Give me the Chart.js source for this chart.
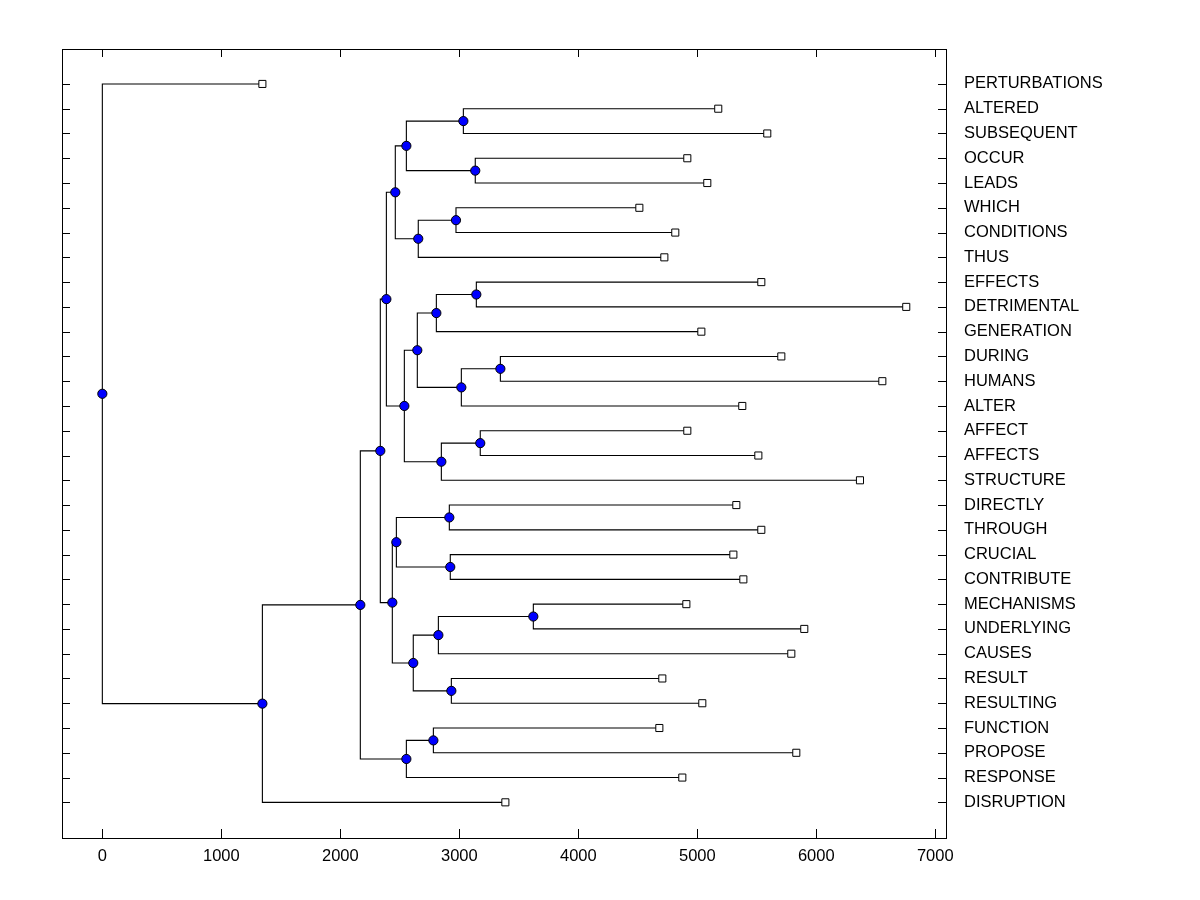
<!DOCTYPE html>
<html>
<head>
<meta charset="utf-8">
<title>Dendrogram</title>
<script src="https://cdn.jsdelivr.net/npm/chart.js@4.4.1/dist/chart.umd.min.js"></script>
<style>
  html, body { margin: 0; padding: 0; background: #fff; }
  #wrap { width: 1200px; height: 900px; }
</style>
</head>
<body>
<div id="wrap"><canvas id="dendro" width="1200" height="900"></canvas></div>
<script>
// leaves, top to bottom
const leafLabels = [
  'PERTURBATIONS', 'ALTERED', 'SUBSEQUENT', 'OCCUR', 'LEADS', 'WHICH', 'CONDITIONS', 'THUS',
  'EFFECTS', 'DETRIMENTAL', 'GENERATION', 'DURING', 'HUMANS', 'ALTER', 'AFFECT', 'AFFECTS',
  'STRUCTURE', 'DIRECTLY', 'THROUGH', 'CRUCIAL', 'CONTRIBUTE', 'MECHANISMS', 'UNDERLYING',
  'CAUSES', 'RESULT', 'RESULTING', 'FUNCTION', 'PROPOSE', 'RESPONSE', 'DISRUPTION'
]
const leafValues = [
  1345, 5176, 5588, 4916, 5084, 4513, 4815, 4723,
  5538, 6756, 5034, 5706, 6555, 5378, 4916, 5513,
  6367, 5328, 5538, 5303, 5387, 4908, 5899,
  5790, 4706, 5042, 4681, 5832, 4874, 3387
]

// merges: node ids 0..29 are leaves, merge i becomes node 30 + i
const mergePairs = [
  [1, 2], [3, 4], [30, 31], [5, 6], [33, 7], [32, 34],
  [8, 9], [36, 10], [11, 12], [38, 13], [37, 39], [14, 15], [41, 16], [40, 42], [35, 43],
  [17, 18], [19, 20], [45, 46], [21, 22], [48, 23], [24, 25], [49, 50], [47, 51], [44, 52],
  [26, 27], [54, 28], [53, 55], [56, 29], [0, 57]
]
const mergeValues = [
  3034, 3134, 2555, 2972, 2655, 2462,
  3143, 2807, 3345, 3017, 2647, 3176, 2849, 2538, 2387,
  2916, 2924, 2471, 3622, 2824, 2933, 2613, 2437, 2336,
  2782, 2555, 2168, 1345, 0
]

const xTicks = [0, 1000, 2000, 3000, 4000, 5000, 6000, 7000]

// node positions: leaves sit on their row, merges halfway between children
const nodeX = [...leafValues]
const nodeY = leafLabels.map((_, i) => i)
mergePairs.forEach(([a, b], i) => {
  nodeX.push(mergeValues[i])
  nodeY.push((nodeY[a] + nodeY[b]) / 2)
})

const branchSets = mergePairs.map(([a, b], i) => {
  const p = 30 + i
  return {
    data: [
      { x: nodeX[a], y: nodeY[a] },
      { x: nodeX[p], y: nodeY[a] },
      { x: nodeX[p], y: nodeY[b] },
      { x: nodeX[b], y: nodeY[b] }
    ],
    showLine: true,
    borderColor: '#000',
    borderWidth: 1.1,
    pointRadius: 0,
    tension: 0,
    order: 2
  }
})

const nodeSet = {
  data: mergeValues.map((v, i) => ({ x: v, y: nodeY[30 + i] })),
  pointStyle: 'circle',
  pointRadius: 4.6,
  backgroundColor: '#0000ff',
  borderColor: '#000',
  borderWidth: 1,
  order: 0
}

const leafSet = {
  data: leafValues.map((v, i) => ({ x: v, y: i })),
  pointStyle: 'rect',
  pointRadius: 5,
  backgroundColor: '#fff',
  borderColor: '#000',
  borderWidth: 1,
  order: 1
}

// frame plus inward tick marks on all four sides
const frameTicks = {
  id: 'frameTicks',
  afterDatasetsDraw(chart) {
    const { ctx, chartArea: a, scales: { x, y } } = chart
    ctx.save()
    ctx.strokeStyle = '#000'
    ctx.lineWidth = 1
    ctx.beginPath()
    x.ticks.forEach(t => {
      const px = Math.round(x.getPixelForValue(t.value)) + 0.5
      ctx.moveTo(px, a.bottom); ctx.lineTo(px, a.bottom - 9)
      ctx.moveTo(px, a.top);    ctx.lineTo(px, a.top + 8)
    })
    y.ticks.forEach(t => {
      const py = Math.round(y.getPixelForValue(t.value)) + 0.5
      ctx.moveTo(a.left, py);  ctx.lineTo(a.left + 8, py)
      ctx.moveTo(a.right, py); ctx.lineTo(a.right - 8, py)
    })
    ctx.stroke()
    ctx.strokeRect(Math.round(a.left) + 0.5, Math.round(a.top) + 0.5,
      Math.round(a.right - a.left), Math.round(a.bottom - a.top))
    ctx.restore()
  }
}

const font = { family: "'Liberation Sans', Arial, sans-serif", size: 16.5 }

new Chart(document.getElementById('dendro'), {
  type: 'scatter',
  data: { datasets: [nodeSet, leafSet, ...branchSets] },
  options: {
    responsive: false,
    animation: false,
    events: [],
    layout: { padding: { left: 62, top: 49, right: 0, bottom: 0 } },
    plugins: { legend: { display: false }, tooltip: { enabled: false } },
    scales: {
      x: {
        type: 'linear',
        position: 'bottom',
        min: -339,
        max: 7090,
        afterBuildTicks: s => { s.ticks = xTicks.map(v => ({ value: v })) },
        afterFit: s => { s.height = 62 },
        grid: { display: false, drawTicks: false },
        border: { display: false },
        ticks: { color: '#000', font, padding: 9, maxRotation: 0, callback: v => String(v) }
      },
      y: {
        type: 'linear',
        position: 'right',
        reverse: true,
        min: -1.41,
        max: 30.44,
        afterBuildTicks: s => { s.ticks = leafLabels.map((_, i) => ({ value: i })) },
        afterFit: s => { s.width = 254 },
        grid: { display: false, drawTicks: false },
        border: { display: false },
        ticks: { color: '#000', font, padding: 18, autoSkip: false, callback: v => leafLabels[v] }
      }
    }
  },
  plugins: [frameTicks]
})
</script>
</body>
</html>
